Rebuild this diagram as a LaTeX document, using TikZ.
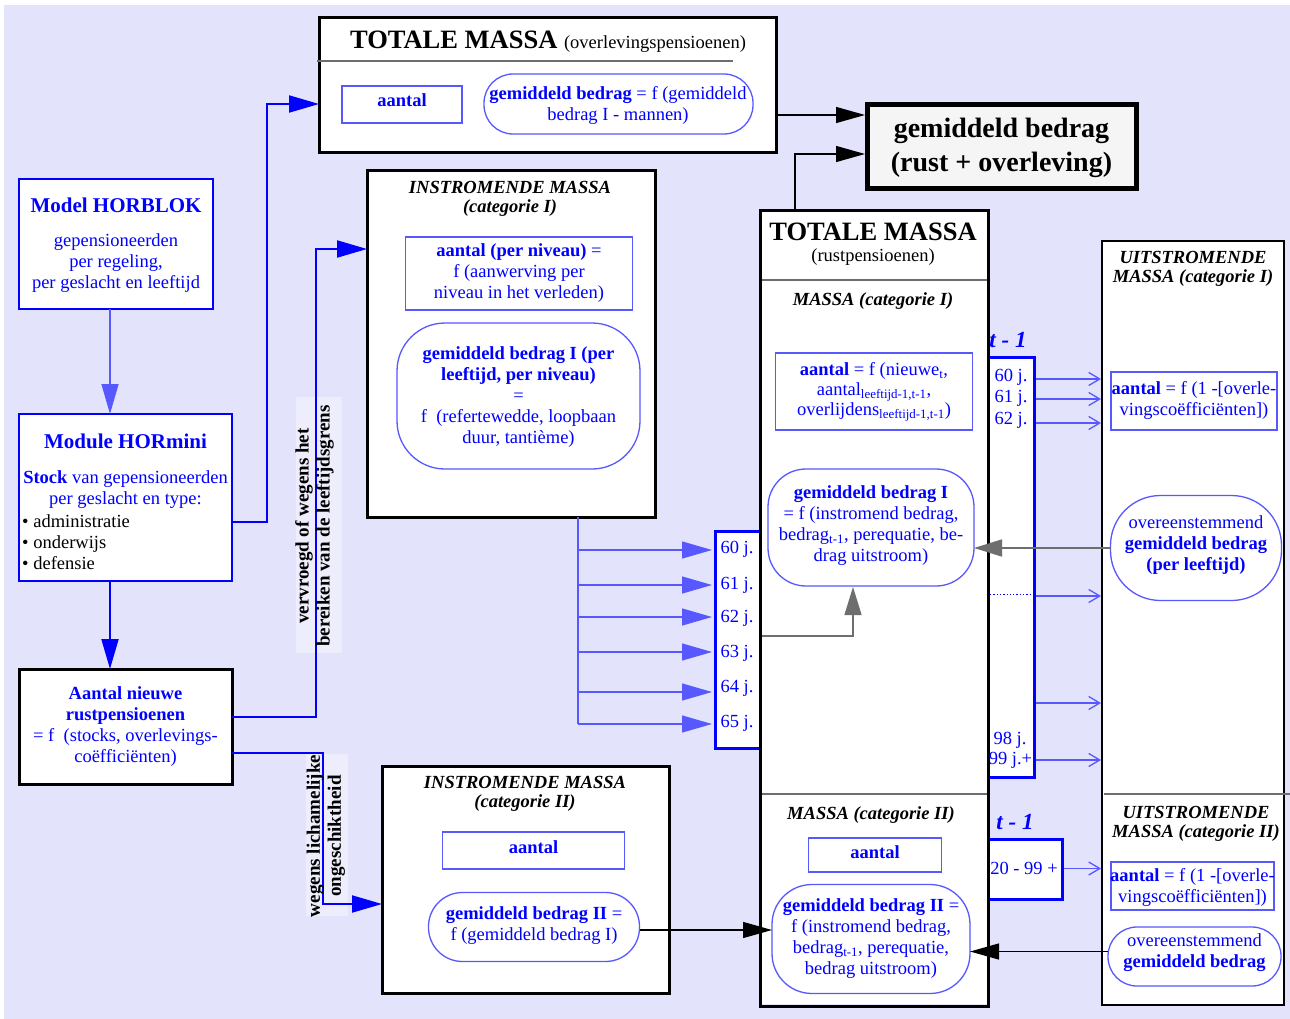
\documentclass[tikz,border=0pt]{standalone}
\usepackage{fontspec}
\setmainfont{Liberation Serif}
\usetikzlibrary{arrows.meta,calc}
\definecolor{lav}{RGB}{227,227,251}
\definecolor{labbg}{RGB}{237,237,252}
\definecolor{tblue}{RGB}{0,0,255}
\definecolor{lblue}{RGB}{88,88,255}
\definecolor{dgray}{RGB}{110,110,110}
\definecolor{fillgray}{RGB}{245,245,245}
\newcommand\fsz[2]{\fontsize{#1}{#2}\selectfont}
\begin{document}
\begin{tikzpicture}[x=1pt,y=-1pt,
  blk/.style={draw=black, line width=3pt, fill=white, inner sep=0pt, outer sep=0pt},
  bbox/.style={draw=tblue, line width=2.5pt, fill=white, inner sep=0pt, outer sep=0pt},
  tbox/.style={draw=tblue, line width=3pt, fill=white, inner sep=0pt, outer sep=0pt},
  lbox/.style={draw=lblue, line width=1.3pt, fill=white, inner sep=0pt, outer sep=0pt},
  rbox/.style={lbox, rounded corners=#1},
  txt/.style={text=tblue, align=center, font=\fsz{18.5}{21}, inner sep=0pt},
  ttl/.style={text=black, align=center, font=\fsz{18.5}{18.5}\bfseries\itshape, inner sep=0pt},
  tlab/.style={text=tblue, font=\fsz{23}{25}\bfseries\itshape, inner sep=0pt},
  vlab/.style={text=black, align=center, rotate=90, font=\fsz{19}{21}\bfseries, inner sep=0pt},
  darr/.style={draw=tblue, line width=2pt, -{Triangle[length=30pt,width=17pt]}},
  larr/.style={draw=lblue, line width=1.3pt, -{Triangle[length=30pt,width=17pt]}},
  garr/.style={draw=dgray, line width=1.5pt, -{Triangle[length=28pt,width=17pt]}},
  karr/.style={draw=black, line width=1.3pt, -{Triangle[length=29pt,width=16pt]}},
  oarr/.style={draw=lblue, line width=1.3pt, -{Straight Barb[length=11pt,width=13pt]}},
  divider/.style={draw=dgray, line width=1.5pt}]
\useasboundingbox (0,0) rectangle (1290,1019);
\fill[white] (0,0) rectangle (1290,1019);
\fill[lav] (4,5) rectangle (1290,1019);

% ---------- label backgrounds ----------
\fill[labbg] (296,397) rectangle (342,653);
\fill[labbg] (306,754) rectangle (348,916);

% ---------- left column ----------
\node[bbox, minimum width=194pt, minimum height=130pt] (horblok) at (116,244) {};
\node[txt, font=\fsz{21}{24}\bfseries] at (116,205) {Model HORBLOK};
\node[txt] at (116,263.5) {gepensioneerden\\per regeling,\\per geslacht en leeftijd};

\node[bbox, minimum width=213pt, minimum height=167pt] (hormini) at (125.5,497.5) {};
\node[txt, font=\fsz{21}{24}\bfseries] at (125.5,441.5) {Module HORmini};
\node[txt] at (125.5,489.5) {\textbf{Stock} van gepensioneerden\\per geslacht en type:};
\node[txt, text=black, align=left, anchor=west] at (22,542) {\textbullet\ administratie\\\textbullet\ onderwijs\\\textbullet\ defensie};

\node[blk, minimum width=213pt, minimum height=115pt] (nieuw) at (125.5,726.5) {};
\node[txt] at (125.5,727) {\textbf{Aantal nieuwe}\\\textbf{rustpensioenen}\\= f\ \ (stocks, overlevings-\\coëfficiënten)};

% ---------- top: overlevingspensioenen ----------
\node[blk, minimum width=457pt, minimum height=135pt] (totov) at (547.5,85.5) {};
\node[inner sep=0pt] at (548,42) {{\fsz{26.5}{30}\bfseries TOTALE MASSA\ }{\fsz{18.5}{21}(overlevingspensioenen)}};
\draw[divider] (317,61) -- (733,61);
\node[lbox, minimum width=120pt, minimum height=37pt] (ovaantal) at (402,104.5) {};
\node[txt, font=\fsz{18.5}{21}\bfseries] at (402,100) {aantal};
\node[rbox=29pt, minimum width=269pt, minimum height=60pt] (ovbedrag) at (618.5,104) {};
\node[txt] at (618,105) {\textbf{gemiddeld bedrag} = f (gemiddeld\\bedrag I - mannen)};

\node[draw=black, line width=5pt, fill=fillgray, inner sep=0pt, outer sep=0pt,
      minimum width=269pt, minimum height=84pt] (res) at (1001.5,147) {};
\node[inner sep=0pt, align=center, font=\fsz{28}{34}\bfseries] at (1001.5,148) {gemiddeld bedrag\\(rust + overleving)};

% ---------- instromende massa I ----------
\node[blk, minimum width=288pt, minimum height=346pt] (inI) at (511,344) {};
\node[ttl] at (510,199) {INSTROMENDE MASSA\\(categorie I)};
\node[lbox, minimum width=227pt, minimum height=73pt] (inIaantal) at (519,273.5) {};
\node[txt] at (519,273.5) {\textbf{aantal (per niveau)} =\\f (aanwerving per\\niveau in het verleden)};
\node[rbox=48pt, minimum width=243pt, minimum height=146pt] (inIbedrag) at (518.5,396) {};
\node[txt] at (518.5,397) {\textbf{gemiddeld bedrag I (per}\\\textbf{leeftijd, per niveau)}\\=\\f\ \ (refertewedde, loopbaan\\duur, tantième)};

% ---------- instromende massa II ----------
\node[blk, minimum width=287pt, minimum height=227pt] (inII) at (525.5,879.5) {};
\node[ttl] at (525,794) {INSTROMENDE MASSA\\(categorie II)};
\node[lbox, minimum width=182pt, minimum height=37pt] (inIIaantal) at (533.5,850.5) {};
\node[txt, font=\fsz{18.5}{21}\bfseries] at (533.5,847) {aantal};
\node[rbox=34pt, minimum width=211pt, minimum height=69pt] (inIIbedrag) at (534,927) {};
\node[txt] at (534,926) {\textbf{gemiddeld bedrag II} =\\f (gemiddeld bedrag I)};

% ---------- age columns ----------
\node[tbox, minimum width=45pt, minimum height=217pt] (ages) at (737.5,639.5) {};
\node[txt] (l60) at (737,549.5) {60 j.};
\node[txt] (l61) at (737,585) {61 j.};
\node[txt] (l62) at (737,618) {62 j.};
\node[txt] (l63) at (737,653) {63 j.};
\node[txt] (l64) at (737,688) {64 j.};
\node[txt] (l65) at (737,723) {65 j.};

\node[tbox, minimum width=46pt, minimum height=420pt] (tI) at (1011,567) {};
\node[tbox, minimum width=74pt, minimum height=60pt] (tII) at (1025,869) {};

% ---------- totale massa rustpensioenen ----------
\node[blk, fill=none, minimum width=228pt, minimum height=795pt] (totr) at (874,608.5) {};
\fill[white] (761.5,212.5) rectangle (986.5,1004);
\node[inner sep=0pt, font=\fsz{26.5}{30}\bfseries] at (873,231.5) {TOTALE MASSA};
\node[inner sep=0pt, font=\fsz{18.5}{21}] at (873,257) {(rustpensioenen)};
\draw[divider] (totr.west |- 0,280) -- (totr.east |- 0,280);
\node[ttl] at (873,301.5) {MASSA (categorie I)};
\node[lbox, minimum width=197pt, minimum height=77pt] (trIaantal) at (874,391.5) {};
\node[txt, font=\fsz{18.5}{20}] at (874,392) {\textbf{aantal} = f (nieuwe\textsubscript{t},\\aantal\textsubscript{leeftijd-1,t-1},\\overlijdens\textsubscript{leeftijd-1,t-1})};
\node[rbox=38pt, minimum width=206pt, minimum height=117pt] (trIbedrag) at (871,527.5) {};
\node[txt] at (871,525.5) {\textbf{gemiddeld bedrag I}\\= f (instromend bedrag,\\bedrag\textsubscript{t-1}, perequatie, be-\\drag uitstroom)};
\draw[divider] (totr.west |- 0,794) -- (totr.east |- 0,794);
\node[ttl] at (871,815.5) {MASSA (categorie II)};
\node[lbox, minimum width=133pt, minimum height=34pt] (trIIaantal) at (875,855) {};
\node[txt, font=\fsz{18.5}{21}\bfseries] at (875,852) {aantal};
\node[rbox=40pt, minimum width=198pt, minimum height=109pt] (trIIbedrag) at (871,939) {};
\node[txt] at (871,939) {\textbf{gemiddeld bedrag II} =\\f (instromend bedrag,\\bedrag\textsubscript{t-1}, perequatie,\\bedrag uitstroom)};
\draw[black, line width=3pt] (totr.north west) rectangle (totr.south east);

% ---------- t - 1 labels ----------
\node[tlab] at (1008,340) {t - 1};
\node[txt] at (1011,377) {60 j.};
\node[txt] at (1011,398.5) {61 j.};
\node[txt] at (1011,420) {62 j.};
\node[txt] at (1010,740) {98 j.};
\node[txt] at (1010.5,760) {99 j.+};
\draw[tblue, line width=1.3pt, dotted] (tI.west |- 0,594.5) ++(2,0) -- ([xshift=-2pt]tI.east |- 0,594.5);
\node[tlab] at (1015,822.5) {t - 1};
\node[txt] at (1024,868) {20 - 99 +};

% ---------- uitstromende massa ----------
\node[draw=black, line width=2pt, fill=white, inner sep=0pt, outer sep=0pt,
      minimum width=182pt, minimum height=764pt] (uit) at (1193,623) {};
\node[ttl] at (1193,269) {UITSTROMENDE\\MASSA (categorie I)};
\node[lbox, minimum width=166pt, minimum height=58pt] (uitIaantal) at (1194,401) {};
\node[txt] at (1194,400) {\textbf{aantal} = f (1 -[overle-\\vingscoëfficiënten])};
\node[rbox=50pt, minimum width=171pt, minimum height=105pt] (uitIbedrag) at (1196,548) {};
\node[txt] at (1196,545) {overeenstemmend\\\textbf{gemiddeld bedrag}\\\textbf{(per leeftijd)}};
\draw[divider] (1104,794) -- (1290,794);
\node[ttl] at (1196,824) {UITSTROMENDE\\MASSA (categorie II)};
\node[lbox, minimum width=163pt, minimum height=48pt] (uitIIaantal) at (1192.5,886) {};
\node[txt] at (1192.5,887) {\textbf{aantal} = f (1 -[overle-\\vingscoëfficiënten])};
\node[rbox=29pt, minimum width=173pt, minimum height=59pt] (uitIIbedrag) at (1194.5,956.5) {};
\node[txt] at (1194.5,952.5) {overeenstemmend\\\textbf{gemiddeld bedrag}};

% ---------- connectors ----------
\coordinate (c110) at (110,0);
\draw[larr] (horblok.south -| c110) -- (hormini.north -| c110);
\draw[darr] (hormini.south -| c110) -- (nieuw.north -| c110);

\coordinate (p1) at (267,522);
\coordinate (p2) at (267,104);
\draw[darr] (hormini.east |- p1) -- (p1) -- (p2) -- (totov.west |- p2);

\coordinate (p3) at (316,717);
\coordinate (p4) at (316,249);
\draw[darr] (nieuw.east |- p3) -- (p3) -- (p4) -- (inI.west |- p4);

\coordinate (p5) at (323,753);
\coordinate (p6) at (323,904);
\draw[darr] (nieuw.east |- p5) -- (p5) -- (p6) -- (inII.west |- p6);

\node[vlab] at (314.5,526) {vervroegd of wegens het\\bereiken van de leeftijdsgrens};
\node[vlab] at (326,836) {wegens lichamelijke\\ongeschiktheid};

% branches from the inflow box into the age column
\coordinate (q0) at (578,0);
\draw[draw=lblue, line width=1.3pt] (inI.south -| q0) -- (578,724);
\foreach \yy in {550,585,617,652,692,724} {
  \coordinate (qy) at (578,\yy);
  \draw[larr] (qy) -- ([xshift=-3pt]ages.west |- qy);
}

\coordinate (g1) at (853,636);
\draw[garr] ([xshift=2pt]ages.east |- g1) -- (g1) -- ([yshift=-1pt]trIbedrag.south -| g1);
\draw[garr] (uitIbedrag.west) -- (trIbedrag.east |- uitIbedrag.west);

\coordinate (b1) at (0,951.5);
\draw[karr] (uitIIbedrag.west |- b1) -- (trIIbedrag.east |- b1);
\coordinate (b2) at (0,930);
\draw[karr] (inIIbedrag.east |- b2) -- (trIIbedrag.west |- b2);

\coordinate (b3) at (0,115);
\draw[karr] (totov.east |- b3) -- ([xshift=-2pt]res.west |- b3);
\coordinate (b4) at (795,154);
\draw[karr] (totr.north -| b4) -- (b4) -- ([xshift=-2pt]res.west |- b4);

\foreach \yy in {379,399,423,596,703,760} {
  \coordinate (ry) at (0,\yy);
  \draw[oarr] ([xshift=1.5pt]tI.east |- ry) -- ([xshift=-1pt]uit.west |- ry);
}
\coordinate (b5) at (0,868.5);
\draw[oarr] ([xshift=1.5pt]tII.east |- b5) -- ([xshift=-1pt]uit.west |- b5);
\end{tikzpicture}
\end{document}
